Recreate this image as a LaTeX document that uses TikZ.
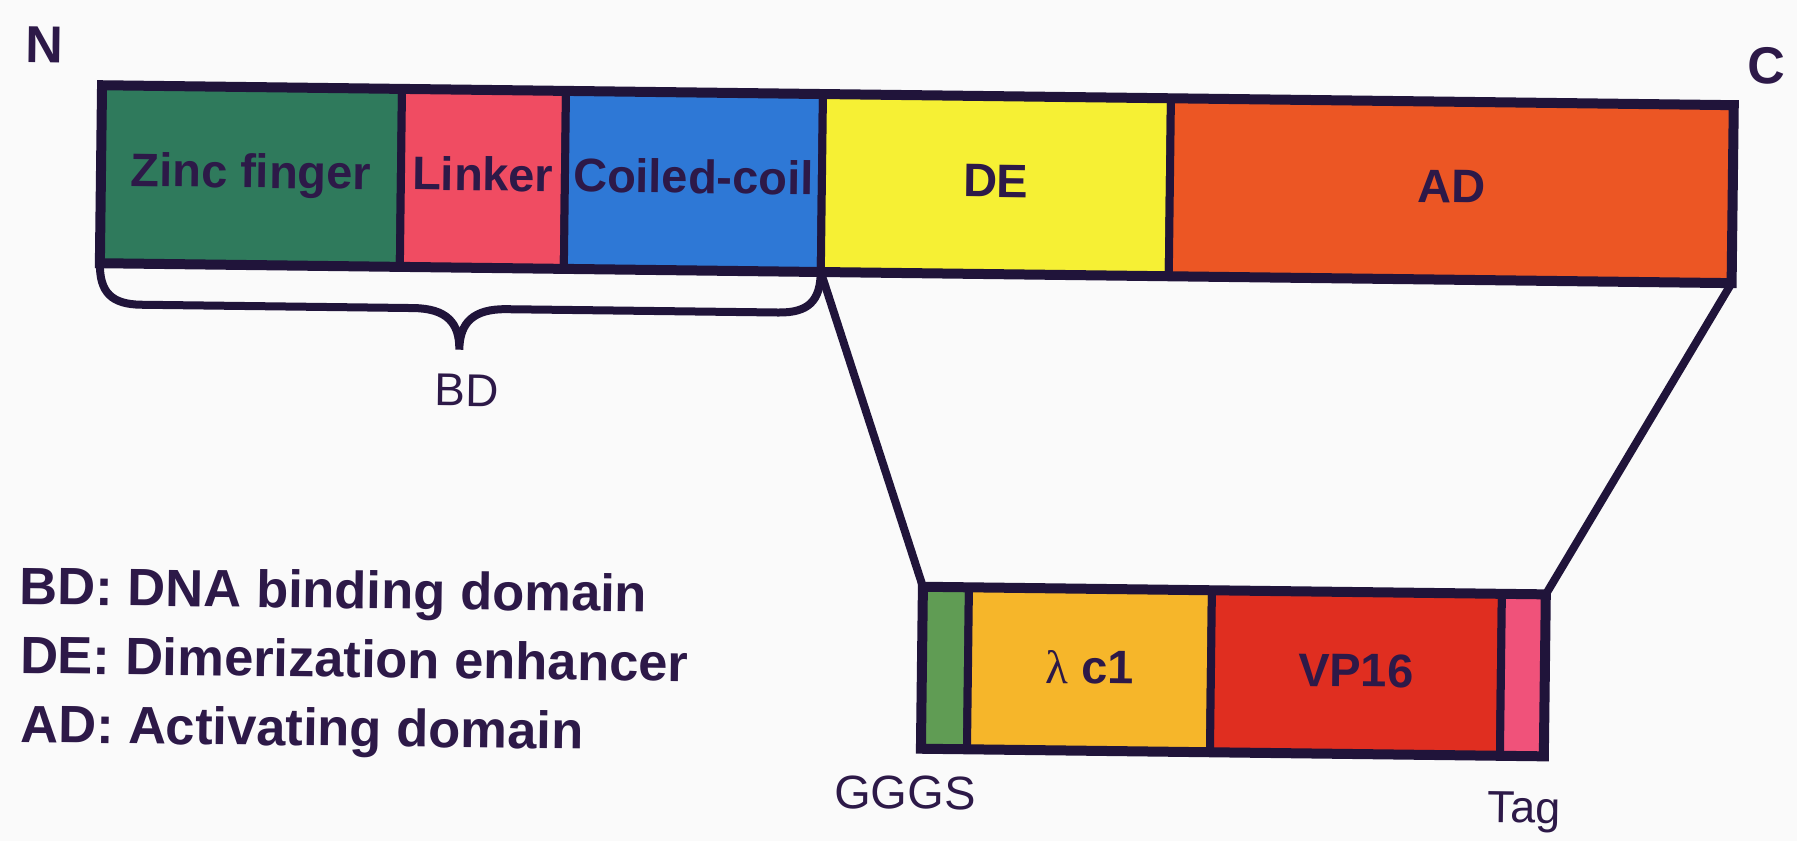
\documentclass[tikz,border=0pt]{standalone}
\usepackage{fontspec}
\setmainfont{Liberation Sans}
\newfontfamily\lamfont{Liberation Serif}
\definecolor{ink}{RGB}{32,20,58}
\definecolor{txt}{RGB}{45,25,72}
\definecolor{bgc}{RGB}{250,250,250}
\definecolor{czinc}{RGB}{47,122,92}
\definecolor{clink}{RGB}{240,76,98}
\definecolor{ccoil}{RGB}{46,120,214}
\definecolor{cde}{RGB}{246,240,52}
\definecolor{cad}{RGB}{236,86,36}
\definecolor{cggs}{RGB}{96,156,84}
\definecolor{clam}{RGB}{246,182,42}
\definecolor{cvp}{RGB}{224,46,32}
\definecolor{ctag}{RGB}{240,82,122}
\begin{document}
\begin{tikzpicture}[x=1pt,y=-1pt,
  cell/.style={draw=ink, line width=8pt, inner sep=0pt, outer sep=0pt, minimum height=178pt},
  lcell/.style={draw=ink, line width=8pt, inner sep=0pt, outer sep=0pt, minimum height=162pt},
  frame/.style={draw=ink, line width=10pt},
  conn/.style={draw=ink, line width=8pt, line cap=round},
  bracestyle/.style={draw=ink, line width=8pt, line cap=round},
  lab/.style={font=\bfseries\fontsize{47}{50}\selectfont, text=txt, inner sep=0pt, text height=33.7pt, text depth=0pt},
  reg/.style={font=\fontsize{47}{50}\selectfont, text=txt, inner sep=0pt, text height=33.7pt, text depth=0pt},
  big/.style={font=\bfseries\fontsize{52}{55}\selectfont, text=txt, inner sep=0pt, text height=37.2pt, text depth=0pt},
  leg/.style={font=\bfseries\fontsize{52.5}{56}\selectfont, text=txt, inner sep=0pt, anchor=base west}
]
\fill[bgc] (0,0) rectangle (1797,841);
\useasboundingbox (0,0) rectangle (1797,841);
\begin{scope}[rotate around={-0.7:(900,420)}, transform shape]
% upper bar
\node[cell, fill=czinc, minimum width=300pt] (zinc) at (248,184) {};
\node[cell, fill=clink, minimum width=164pt] (linker) at (480,184) {};
\node[cell, fill=ccoil, minimum width=257pt] (coil) at (690.5,184) {};
\node[cell, fill=cde, minimum width=348pt] (de) at (993,184) {};
\node[cell, fill=cad, minimum width=563pt] (ad) at (1448.5,184) {};
\draw[frame] (zinc.north west) rectangle (ad.south east);
\node[lab] (tzinc) at ([yshift=5pt]zinc.center) {Zinc finger};
\node[lab] (tlinker) at ([yshift=5pt]linker.center) {Linker};
\node[lab] (tcoil) at ([yshift=5pt]coil.center) {Coiled-coil};
\node[lab] (tde) at ([yshift=5pt]de.center) {DE};
\node[lab] (tad) at ([yshift=5pt]ad.center) {AD};
% N and C
\node[big] (nterm) at (40.4,54.5) {N};
\node[big] (cterm) at (1761.7,54.5) {C};
% brace
\coordinate (tip) at (458.5,355);
\draw[bracestyle] (zinc.south west) .. controls (98,302) and (110,314) .. (140,314)
  -- (412,314) .. controls (445,314) and (458.5,328) .. (tip)
  .. controls (458.5,328) and (472,314) .. (505,314)
  -- (777,314) .. controls (807,314) and (819,302) .. (coil.south east);
\node[reg, font=\fontsize{46}{50}\selectfont, text height=33pt] (bd) at (466.6,395) {BD};
% lower bar
\node[lcell, fill=cggs, minimum width=46pt] (gggs) at (948,667.5) {};
\node[lcell, fill=clam, minimum width=243pt] (lam) at (1092.5,667.5) {};
\node[lcell, fill=cvp, minimum width=290pt] (vp) at (1359,667.5) {};
\node[lcell, fill=ctag, minimum width=44pt] (tag) at (1526,667.5) {};
\draw[frame] (gggs.north west) rectangle (tag.south east);
\node[lab] (tlam) at ([yshift=3pt]lam.center) {{\lamfont\mdseries λ} c1};
\node[lab] (tvp) at ([yshift=3pt]vp.center) {VP16};
\node[reg] (tgggs) at (909.6,792) {GGGS};
\node[reg, font=\fontsize{45}{50}\selectfont, text height=32.2pt] (ttag) at (1528.7,799.4) {Tag};
% zoom connectors
\draw[conn] (coil.south east) -- (gggs.north west);
\draw[conn] (ad.south east) -- (tag.north east);
% legend
\node[leg] (l1) at (22,615) {BD: DNA binding domain};
\node[leg] (l2) at (23,684) {DE: Dimerization enhancer};
\node[leg] (l3) at (24,753) {AD: Activating domain};
\end{scope}
\end{tikzpicture}
\end{document}
